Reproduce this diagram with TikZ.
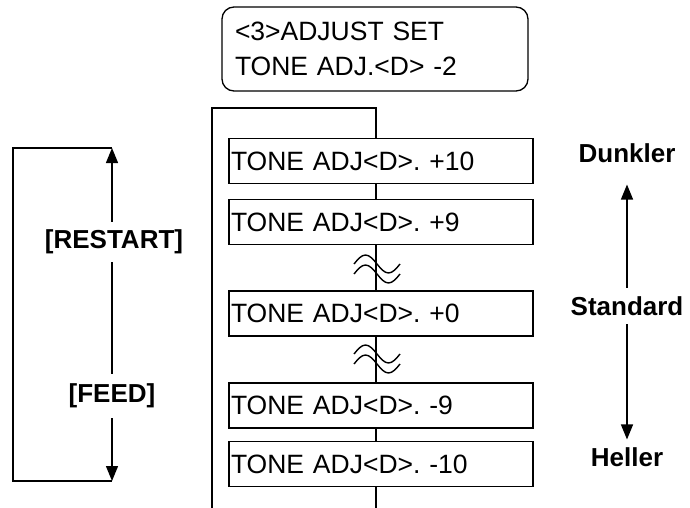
\documentclass[tikz,border=0pt]{standalone}
\usepackage{fontspec}
\setmainfont{Liberation Sans}
\usetikzlibrary{arrows.meta}

\begin{document}
\frenchspacing
\begin{tikzpicture}[
  x=1pt, y=-1pt,
  line width=1.3pt,
  >={Triangle[width=12pt, length=15pt]},
  dispbox/.style={rectangle, rounded corners=12pt, draw, line width=1.3pt,
    minimum width=306pt, minimum height=84pt, text width=280pt, align=left,
    inner xsep=13pt, inner ysep=0pt, font=\fontsize{26.5}{35}\selectfont},
  tonebox/.style={rectangle, draw, fill=white, line width=1.8pt,
    text width=300pt, align=left, minimum height=45pt, inner xsep=2pt,
    inner ysep=0pt, font=\fontsize{26.5}{30}\selectfont},
  keylabel/.style={fill=white, font=\fontsize{26}{30}\selectfont\bfseries,
    inner xsep=2pt, inner ysep=8pt},
  endlabel/.style={font=\fontsize{26}{30}\selectfont\bfseries}
]
  \useasboundingbox (0,0) rectangle (690,508);

  % display
  \node[dispbox] (disp) at (375,49) {<3>ADJUST SET\\TONE ADJ.<D> -2};

  % menu loop
  \coordinate (mbotl) at (212,508);
  \coordinate (mtopl) at (212,108);
  \coordinate (mtopr) at (376,108);
  \coordinate (mbotr) at (376,508);
  \draw (mbotl) -- (mtopl) -- (mtopr) -- (mbotr);

  \node[tonebox] (p10) at (381,161)   {TONE ADJ<D>. +10};
  \node[tonebox] (p9)  at (381,222)   {TONE ADJ<D>. +9};
  \node[tonebox] (z0)  at (381,313.5) {TONE ADJ<D>. +0};
  \node[tonebox] (m9)  at (381,405.5) {TONE ADJ<D>. -9};
  \node[tonebox] (m10) at (381,464)   {TONE ADJ<D>. -10};

  % breaks
  \foreach \yc in {264,354} {
    \draw[line width=1.4pt] (354,\yc) sin (365.5,\yc-9) cos (377,\yc) sin (388.5,\yc+9) cos (400,\yc);
    \draw[line width=1.4pt] (354,\yc+10) sin (365.5,\yc+1) cos (377,\yc+10) sin (388.5,\yc+19) cos (400,\yc+10);
  }

  % keys
  \coordinate (ktop) at (112,148);
  \coordinate (kbot) at (112,481);
  \coordinate (kltop) at (13,148);
  \coordinate (klbot) at (13,481);
  \draw (ktop) -- (kltop) -- (klbot) -- (kbot);
  \draw[<->] (kbot) -- (ktop);
  \node[keylabel] (restart) at (114,242) {[RESTART]};
  \node[keylabel, inner ysep=10pt] (feed) at (112,396) {[FEED]};

  % tone scale
  \node[endlabel] (dunk) at (627,153) {Dunkler};
  \node[keylabel] (std) at (627,306) {Standard};
  \node[endlabel] (hell) at (627,457) {Heller};
  \draw[->, shorten >=18pt] (std) -- (dunk);
  \draw[->, shorten >=4pt] (std) -- (hell);
\end{tikzpicture}
\end{document}
